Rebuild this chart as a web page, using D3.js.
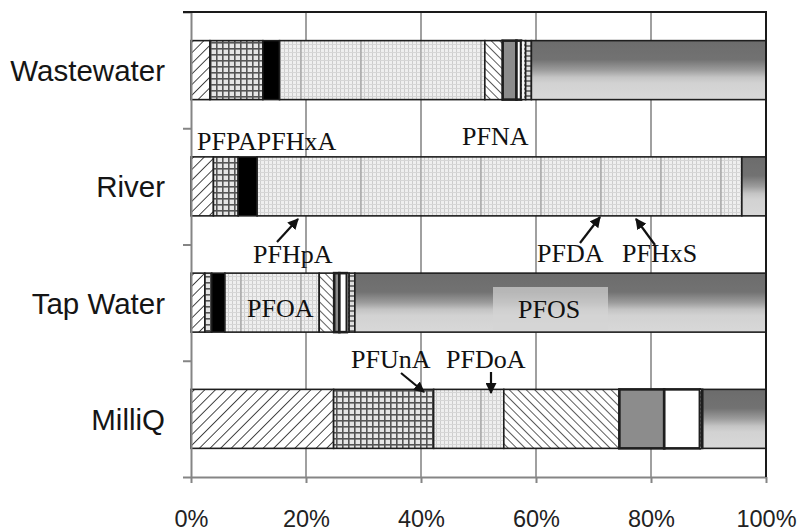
<!DOCTYPE html>
<html>
<head>
<meta charset="utf-8">
<script src="https://cdn.jsdelivr.net/npm/d3@7/dist/d3.min.js"></script>
<style>
  html, body { margin: 0; padding: 0; background: #fff; }
  svg { display: block; }
</style>
</head>
<body>
<svg id="chart" width="800" height="531"></svg>
<script>
// Sample types (rows) and the share (%) of each perfluorinated compound
const categories = ["Wastewater", "River", "Tap Water", "MilliQ"];
const compounds  = ["PFPA", "PFHxA", "PFHpA", "PFOA", "PFNA", "PFDA", "PFUnA", "PFDoA", "PFHxS", "PFOS"];

// One array per compound, ordered like `categories`
const PFPA  = [3.3, 3.9, 2.4, 24.8];
const PFHxA = [9.2, 4.3, 1.2, 17.4];
const PFHpA = [2.9, 3.3, 2.3, 0.0];
const PFOA  = [35.7, 84.3, 16.4, 12.2];
const PFNA  = [3.1, 0.0, 2.6, 20.1];
const PFDA  = [2.4, 0.0, 0.9, 7.8];
const PFUnA = [0.8, 0.0, 1.3, 6.2];
const PFDoA = [0.8, 0.0, 0.4, 0.3];
const PFHxS = [1.0, 0.0, 1.0, 0.2];
const PFOS  = [40.8, 4.2, 71.5, 11.0];

const xTicks = [0, 20, 40, 60, 80, 100];

// Compound call-outs placed around the bars (pixel positions, optional arrow / backdrop)
const annotations = [
  { text: "PFPAPFHxA", x: 197, y: 150 },
  { text: "PFNA",      x: 462, y: 145 },
  { text: "PFHpA",     x: 253, y: 263, arrow: [[277, 242], [298, 219]] },
  { text: "PFDA",      x: 537, y: 262, arrow: [[580, 243], [600, 217]] },
  { text: "PFHxS",     x: 622, y: 262, arrow: [[655, 245], [636, 219]] },
  { text: "PFOA",      x: 247, y: 317 },
  { text: "PFOS",      x: 518, y: 318, box: [493, 287, 115, 43] },
  { text: "PFUnA",     x: 351, y: 368, arrow: [[401, 373], [424, 392]] },
  { text: "PFDoA",     x: 446, y: 368, arrow: [[491, 372], [491, 393]] }
];

const seriesValues = { PFPA, PFHxA, PFHpA, PFOA, PFNA, PFDA, PFUnA, PFDoA, PFHxS, PFOS };

const svg = d3.select("#chart");
const margin = { left: 191, right: 34, top: 12, bottom: 54 };
const W = 800, H = 531;

const x = d3.scaleLinear().domain([0, 100]).range([margin.left, W - margin.right]);
const y = d3.scaleBand().domain(categories)
  .range([margin.top, H - margin.bottom])
  .paddingInner(0.4925).paddingOuter(0.24625);
const rowLine = d3.scaleLinear().domain([0, categories.length])
  .range([H - margin.bottom, margin.top]);

// ---------- fills ----------
const defs = svg.append("defs");

function hatch(id, angle, spacing, color, width) {
  const p = defs.append("pattern").attr("id", id)
    .attr("patternUnits", "userSpaceOnUse")
    .attr("width", spacing).attr("height", spacing)
    .attr("patternTransform", `rotate(${angle})`);
  p.append("rect").attr("width", spacing).attr("height", spacing).attr("fill", "#fff");
  p.append("line").attr("x1", 0).attr("y1", 0).attr("x2", 0).attr("y2", spacing)
    .attr("stroke", color).attr("stroke-width", width);
}
hatch("pat-fwd", 45, 7.5, "#333", 1.8);
hatch("pat-back", -45, 6, "#333", 1.6);

// dense plaid
(function () {
  const s = 6;
  const p = defs.append("pattern").attr("id", "pat-cross")
    .attr("patternUnits", "userSpaceOnUse").attr("width", s).attr("height", s);
  p.append("rect").attr("width", s).attr("height", s).attr("fill", "#e6e6e6");
  p.append("line").attr("x1", 0.8).attr("y1", 0).attr("x2", 0.8).attr("y2", s)
    .attr("stroke", "#555").attr("stroke-width", 1.6);
  p.append("line").attr("x1", 0).attr("y1", 0.8).attr("x2", s).attr("y2", 0.8)
    .attr("stroke", "#555").attr("stroke-width", 1.6);
})();

// light fine grid with a faint stripe every 60px
(function () {
  const w = 60, h = 4;
  const p = defs.append("pattern").attr("id", "pat-grid")
    .attr("patternUnits", "userSpaceOnUse").attr("width", w).attr("height", h);
  p.append("rect").attr("width", w).attr("height", h).attr("fill", "#efefef");
  for (let i = 0; i < w; i += 4) {
    p.append("line").attr("x1", i + 0.5).attr("y1", 0).attr("x2", i + 0.5).attr("y2", h)
      .attr("stroke", "#cdcdcd").attr("stroke-width", 1);
  }
  p.append("line").attr("x1", 0).attr("y1", 0.5).attr("x2", w).attr("y2", 0.5)
    .attr("stroke", "#d6d6d6").attr("stroke-width", 1);
  p.append("line").attr("x1", 1).attr("y1", 0).attr("x2", 1).attr("y2", h)
    .attr("stroke", "#9c9c9c").attr("stroke-width", 1.2);
})();

// small dotted
(function () {
  const s = 4;
  const p = defs.append("pattern").attr("id", "pat-dots")
    .attr("patternUnits", "userSpaceOnUse").attr("width", s).attr("height", s);
  p.append("rect").attr("width", s).attr("height", s).attr("fill", "#f4f4f4");
  p.append("rect").attr("width", 2).attr("height", 2).attr("fill", "#888");
})();
(function () {
  const s = 5;
  const p = defs.append("pattern").attr("id", "pat-brick")
    .attr("patternUnits", "userSpaceOnUse").attr("width", s).attr("height", s);
  p.append("rect").attr("width", s).attr("height", s).attr("fill", "#e0e0e0");
  p.append("line").attr("x1", 0).attr("y1", 1).attr("x2", s).attr("y2", 1)
    .attr("stroke", "#555").attr("stroke-width", 1.5);
})();

// PFOS shading
const grad = defs.append("linearGradient").attr("id", "grad-pfos")
  .attr("x1", 0).attr("y1", 0).attr("x2", 0).attr("y2", 1);
[[0, "#6c6c6c"], [0.32, "#727272"], [0.5, "#9c9c9c"], [0.62, "#c4c4c4"], [0.72, "#d2d2d2"], [1, "#d8d8d8"]]
  .forEach(([o, c]) => grad.append("stop").attr("offset", o).attr("stop-color", c));

const fills = {
  PFPA: "url(#pat-fwd)", PFHxA: "url(#pat-cross)", PFHpA: "#000", PFOA: "url(#pat-grid)",
  PFNA: "url(#pat-back)", PFDA: "#8c8c8c", PFUnA: "#fff", PFDoA: "url(#pat-dots)",
  PFHxS: "url(#pat-brick)", PFOS: "url(#grad-pfos)"
};
const strokeW = { PFDA: 2.6, PFUnA: 2.6, PFHpA: 1.5 };

// ---------- grid ----------
const g = svg.append("g");
g.selectAll(".grid").data(xTicks.filter(t => t > 0 && t < 100)).join("line")
  .attr("x1", d => x(d)).attr("x2", d => x(d))
  .attr("y1", margin.top).attr("y2", H - margin.bottom)
  .attr("stroke", "#808080").attr("stroke-width", 1.5);

// ---------- stacked bars ----------
const rows = categories.map((c, i) => {
  const r = { category: c };
  compounds.forEach(k => r[k] = seriesValues[k][i]);
  return r;
});
const stacked = d3.stack().keys(compounds)(rows);

const layer = svg.append("g").selectAll("g").data(stacked).join("g");
layer.selectAll("rect")
  .data(s => s.map(d => ({ key: s.key, d })))
  .join("rect")
  .filter(o => o.d[1] - o.d[0] > 0)
  .attr("x", o => x(o.d[0]))
  .attr("y", o => y(o.d.data.category))
  .attr("width", o => x(o.d[1]) - x(o.d[0]))
  .attr("height", y.bandwidth())
  .attr("fill", o => fills[o.key])
  .attr("stroke", "#1e1e1e")
  .attr("stroke-width", o => strokeW[o.key] || 1.6);

// ---------- axes ----------
const xAxis = svg.append("g")
  .attr("transform", `translate(0,${H - margin.bottom})`)
  .call(d3.axisBottom(x).tickValues(xTicks).tickFormat(d => d + "%").tickSize(6).tickSizeOuter(0));
xAxis.select(".domain").attr("stroke", "#858585").attr("stroke-width", 2);
xAxis.selectAll(".tick line").attr("stroke", "#858585").attr("stroke-width", 2);
xAxis.selectAll(".tick text")
  .attr("y", 50).attr("dy", 0)
  .attr("fill", "#222")
  .style("font-family", "'Liberation Sans', Arial, sans-serif")
  .style("font-size", "23.5px");

const yAxis = svg.append("g")
  .attr("transform", `translate(${margin.left},0)`)
  .call(d3.axisLeft(rowLine).tickValues(d3.range(categories.length + 1)).tickFormat("").tickSize(8).tickSizeOuter(0));
yAxis.select(".domain").attr("stroke", "#858585").attr("stroke-width", 2);
yAxis.selectAll(".tick line").attr("stroke", "#858585").attr("stroke-width", 2);

// dark frame on top and right
svg.append("line").attr("x1", margin.left - 8).attr("x2", x(100) + 1)
  .attr("y1", margin.top).attr("y2", margin.top)
  .attr("stroke", "#1a1a1a").attr("stroke-width", 2);
svg.append("line").attr("x1", x(100)).attr("x2", x(100))
  .attr("y1", margin.top).attr("y2", H - margin.bottom)
  .attr("stroke", "#1a1a1a").attr("stroke-width", 2);

// category labels
svg.append("g").selectAll("text").data(categories).join("text")
  .attr("x", 165)
  .attr("y", d => y(d) + y.bandwidth() / 2 + 11)
  .attr("text-anchor", "end")
  .attr("fill", "#151515")
  .style("font-family", "'Liberation Sans', Arial, sans-serif")
  .style("font-size", "29.5px")
  .text(d => d);

// ---------- annotations ----------
defs.append("marker").attr("id", "arrowhead")
  .attr("viewBox", "0 0 10 10").attr("refX", 9).attr("refY", 5)
  .attr("markerWidth", 5).attr("markerHeight", 5)
  .attr("markerUnits", "strokeWidth")
  .attr("orient", "auto")
  .append("path").attr("d", "M0,0 L10,5 L0,10 z").attr("fill", "#111");

const ann = svg.append("g");
annotations.filter(a => a.box).forEach(a => {
  ann.append("rect").attr("x", a.box[0]).attr("y", a.box[1])
    .attr("width", a.box[2]).attr("height", a.box[3])
    .attr("fill", "#d4d4d4").attr("opacity", 0.7);
});
annotations.filter(a => a.arrow).forEach(a => {
  ann.append("line")
    .attr("x1", a.arrow[0][0]).attr("y1", a.arrow[0][1])
    .attr("x2", a.arrow[1][0]).attr("y2", a.arrow[1][1])
    .attr("stroke", "#111").attr("stroke-width", 2.2)
    .attr("marker-end", "url(#arrowhead)");
});
ann.selectAll("text.lbl").data(annotations).join("text")
  .attr("class", "lbl")
  .attr("x", d => d.x).attr("y", d => d.y)
  .attr("fill", "#111")
  .style("font-family", "'Liberation Serif', 'Times New Roman', serif")
  .style("font-size", "26px")
  .text(d => d.text);
</script>
</body>
</html>
